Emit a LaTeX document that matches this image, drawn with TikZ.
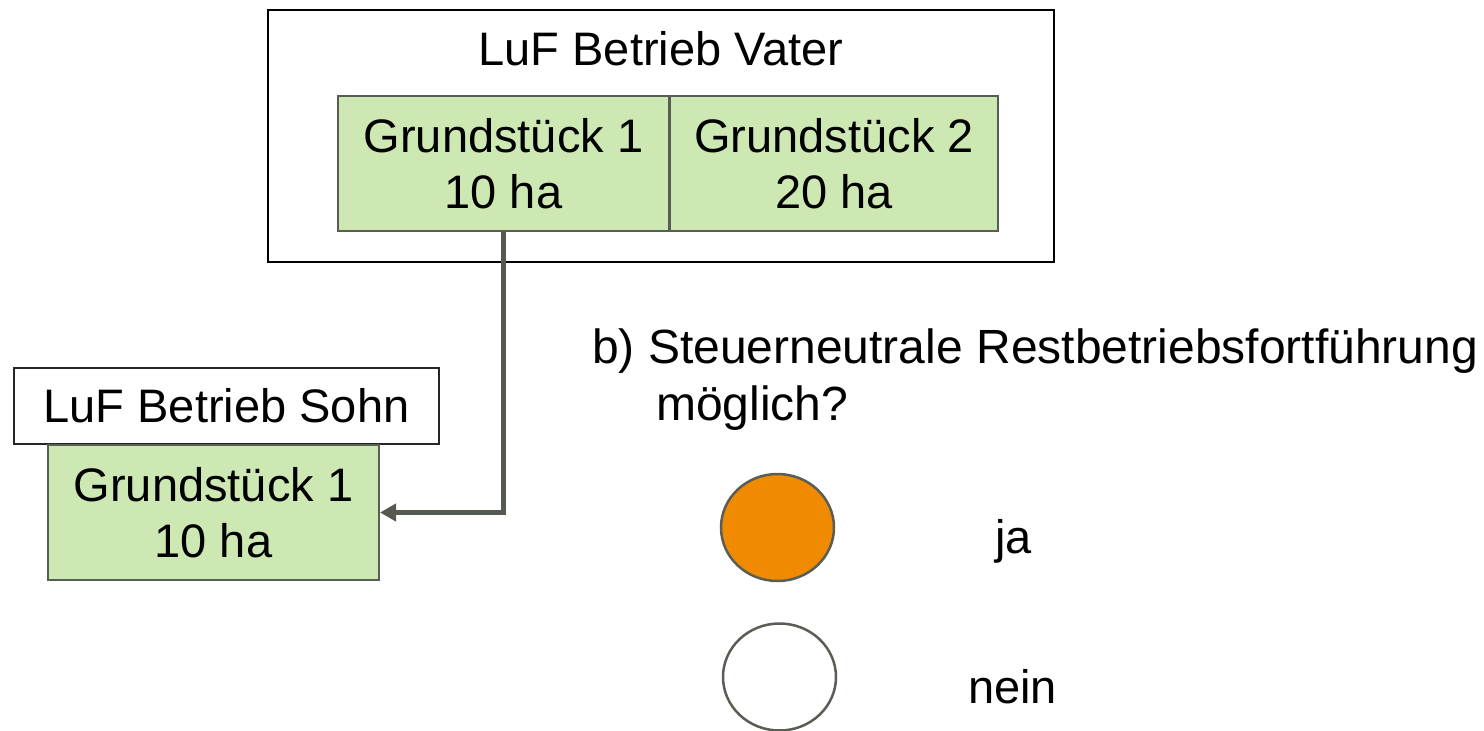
\documentclass[tikz,border=0pt]{standalone}
\usepackage{fontspec}
\setmainfont{Liberation Sans}
\usetikzlibrary{arrows.meta,shapes.geometric}
\definecolor{plotgreen}{HTML}{CDE8B3}
\definecolor{edgegrey}{HTML}{595E55}
\definecolor{linkgrey}{HTML}{555A50}
\definecolor{choiceorange}{HTML}{F08A00}
\tikzset{
  bigtext/.style={font=\fontsize{47}{56}\selectfont},
  questiontext/.style={font=\fontsize{48}{56}\selectfont},
  farmbox/.style={draw=black, line width=2pt, fill=white, inner sep=0pt},
  plotbox/.style={draw=edgegrey, line width=2pt, fill=plotgreen, inner sep=0pt,
    minimum height=135pt, align=center, bigtext},
  choice/.style={ellipse, draw=edgegrey, line width=2.5pt, inner sep=0pt,
    minimum width=113pt, minimum height=107pt},
  transfer/.style={draw=linkgrey, line width=4.5pt,
    -{Triangle[length=16pt,width=17pt]}},
}
\begin{document}
\begin{tikzpicture}[x=1pt,y=-1pt]
  \useasboundingbox (0,0) rectangle (1484,731);

  % father's farm with its two plots
  \node[farmbox, minimum width=786pt, minimum height=252pt] (vater) at (661,136) {};
  \node[bigtext, anchor=base] (vtitle) at (661,65) {LuF Betrieb Vater};
  \node[plotbox, minimum width=331pt] (g1) at (503.5,163.5) {Grundstück 1\\10 ha};
  \node[plotbox, minimum width=328pt] (g2) at (834,163.5) {Grundstück 2\\20 ha};

  % son's farm receiving plot 1
  \node[farmbox, draw=black!85, minimum width=425pt, minimum height=76pt, bigtext] (sohn) at (226.5,406) {LuF Betrieb Sohn};
  \node[plotbox, minimum width=331pt] (s1) at (213.5,512.5) {Grundstück 1\\10 ha};

  % transfer of the plot
  \draw[transfer] (g1.south) |- (s1.east);

  % question with answer choices
  \node[questiontext, anchor=base west, inner sep=0pt] (q1) at (592,363) {b) Steuerneutrale Restbetriebsfortführung};
  \node[questiontext, anchor=base west, inner sep=0pt] (q2) at (656,420) {möglich?};

  \node[choice, fill=choiceorange] (cja) at (777.5,527.5) {};
  \node[choice, fill=white] (cnein) at (779.5,677) {};
  \node[bigtext, anchor=base west, inner sep=0pt] (tja) at (995,553) {ja};
  \node[bigtext, anchor=base west, inner sep=0pt] (tnein) at (968,703) {nein};
\end{tikzpicture}
\end{document}
